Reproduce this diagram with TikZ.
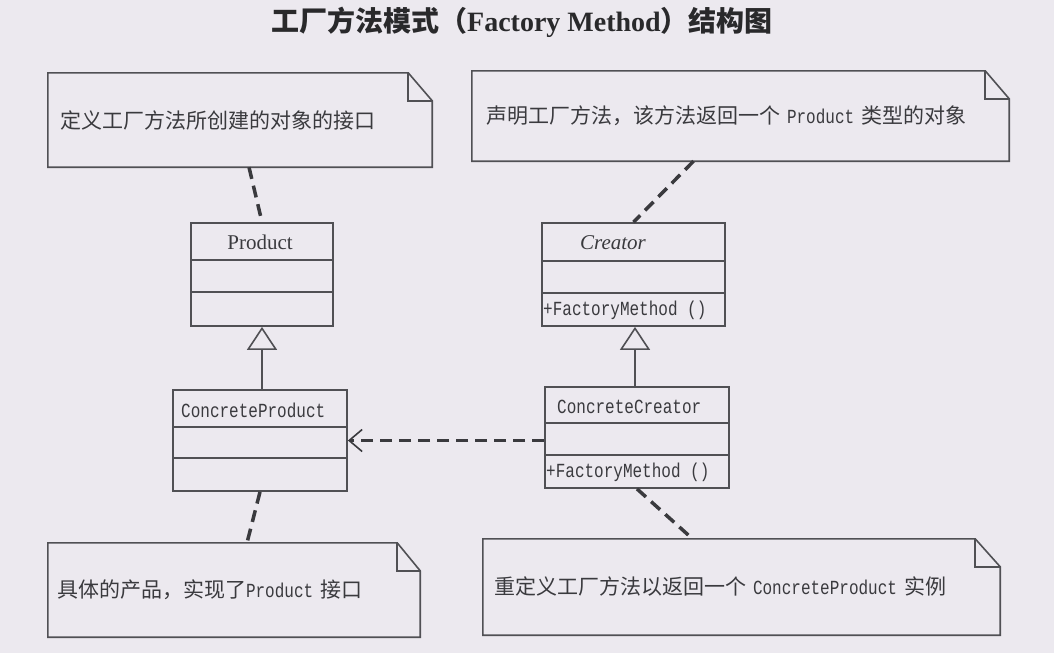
\documentclass[tikz,border=0pt]{standalone}
\usepackage{fontspec}
\setmainfont{Liberation Serif}
\setmonofont[FakeStretch=0.8]{Liberation Mono}
\newfontfamily\cjk{Noto Sans CJK SC}
\usepackage{tikz}
\usetikzlibrary{arrows.meta,calc}

\definecolor{paper}{RGB}{236,233,239}
\definecolor{ink}{RGB}{58,58,62}
\definecolor{rule}{RGB}{80,80,84}

\begin{document}
\begin{tikzpicture}[x=1pt, y=-1pt]
    \def\fold{28} % height of the folded corner
    \def\mono#1{{\fontsize{20}{24}\selectfont\ttfamily #1}}

    % Style for nodes
    \tikzset{
        classbox/.style={rectangle, draw=rule, line width=1.8pt, inner sep=0pt},
        classname/.style={text=ink, inner sep=0pt, font=\fontsize{21}{25}\selectfont},
        membertext/.style={text=ink, inner sep=0pt, anchor=west, font=\fontsize{20}{24}\selectfont\ttfamily},
        notebox/.style={rectangle, inner xsep=12pt, inner ysep=0pt, align=left, text=ink, font=\fontsize{21}{25}\selectfont\cjk},
        noteline/.style={draw=rule, line width=1.6pt, line join=miter},
        notelink/.style={draw=ink, line width=3.5pt, dash pattern=on 12pt off 7pt},
        depend/.style={notelink, -{Straight Barb[length=13pt, width=22pt, line width=1.6pt]}},
        inherit/.style={draw=rule, line width=1.6pt, -{Triangle[open, fill=paper, length=23pt, width=30pt, line width=1.6pt]}}
    }

    \useasboundingbox (0,0) rectangle (1054,653);
    \fill[paper] (0,0) rectangle (1054,653);

    % --- TITLE ---
    \node[text=ink!70!black, font=\fontsize{28}{33}\selectfont\bfseries] (title) at (522,22)
        {{\cjk 工厂方法模式（}Factory Method{\cjk ）结构图}};

    % --- DRAW CLASSES ---
    \node[classbox, minimum width=142pt, minimum height=103pt] (Product) at (262,274.5) {};
    \node[classbox, minimum width=183pt, minimum height=103pt] (Creator) at (633.5,274.5) {};
    \node[classbox, minimum width=174pt, minimum height=101pt] (cProduct) at (260,440.5) {};
    \node[classbox, minimum width=184pt, minimum height=101pt] (cCreator) at (637,437.5) {};

    % compartments: name / attributes / operations
    \foreach \n/\a/\b in {Product/38/70, Creator/39/71, cProduct/38/69, cCreator/37/69} {
        \draw[rule, line width=1.8pt] ($(\n.north west)+(0,\a)$) -- ($(\n.north east)+(0,\a)$);
        \draw[rule, line width=1.8pt] ($(\n.north west)+(0,\b)$) -- ($(\n.north east)+(0,\b)$);
    }

    \node[classname] (Product-name) at (260,242) {Product};
    \node[classname, font=\fontsize{21}{25}\selectfont\itshape] (Creator-name) at (613,243) {Creator};
    \node[membertext] (cProduct-name) at (181,410) {ConcreteProduct};
    \node[membertext] (cCreator-name) at (557,407) {ConcreteCreator};
    \node[membertext] (Creator-op) at (543,310) {+FactoryMethod ()};
    \node[membertext] (cCreator-op) at (546,472) {+FactoryMethod ()};

    % --- DRAW NOTES ---
    \node[notebox, minimum width=384pt, minimum height=94pt, text width=360pt] (nDefine) at (240,120)
        {定义工厂方法所创建的对象的接口};
    \node[notebox, inner xsep=14pt, minimum width=537pt, minimum height=90pt, text width=509pt] (nDeclare) at (740.5,116)
        {声明工厂方法，该方法返回一个 \mono{Product} 类型的对象};
    \node[notebox, inner xsep=9pt, minimum width=372pt, minimum height=94pt, text width=354pt] (nConcrete) at (234,590)
        {具体的产品，实现了\mono{Product} 接口};
    \node[notebox, inner xsep=11pt, minimum width=517pt, minimum height=96pt, text width=495pt] (nRedefine) at (741.5,587)
        {重定义工厂方法以返回一个 \mono{ConcreteProduct} 实例};

    % outline with dog-ear
    \foreach \n/\f in {nDefine/24, nDeclare/24, nConcrete/23, nRedefine/25} {
        \draw[noteline] (\n.south west) -- (\n.north west) -- ($(\n.north east)+(-\f,0)$)
            -- ($(\n.north east)+(0,\fold)$) -- (\n.south east) -- cycle;
        \draw[noteline] ($(\n.north east)+(-\f,0)$) |- ($(\n.north east)+(0,\fold)$);
    }

    % --- CONNECTIONS ---
    \draw[inherit] (cProduct.north -| Product.south) -- (Product.south);
    \draw[inherit] ($(cCreator.north)+(-2,0)$) -- ($(Creator.south)+(1.5,0)$);
    \draw[depend] (cCreator.west |- cProduct.east) -- (cProduct.east);

    \draw[notelink] ($(nDefine.south)+(9,0)$) -- (Product.north);
    \draw[notelink] ($(nDeclare.south)+(-47,0)$) -- (Creator.north);
    \draw[notelink] (cProduct.south) -- ($(nConcrete.north)+(13,0)$);
    \draw[notelink] (cCreator.south) -- ($(nRedefine.north)+(-49,0)$);

\end{tikzpicture}
\end{document}
